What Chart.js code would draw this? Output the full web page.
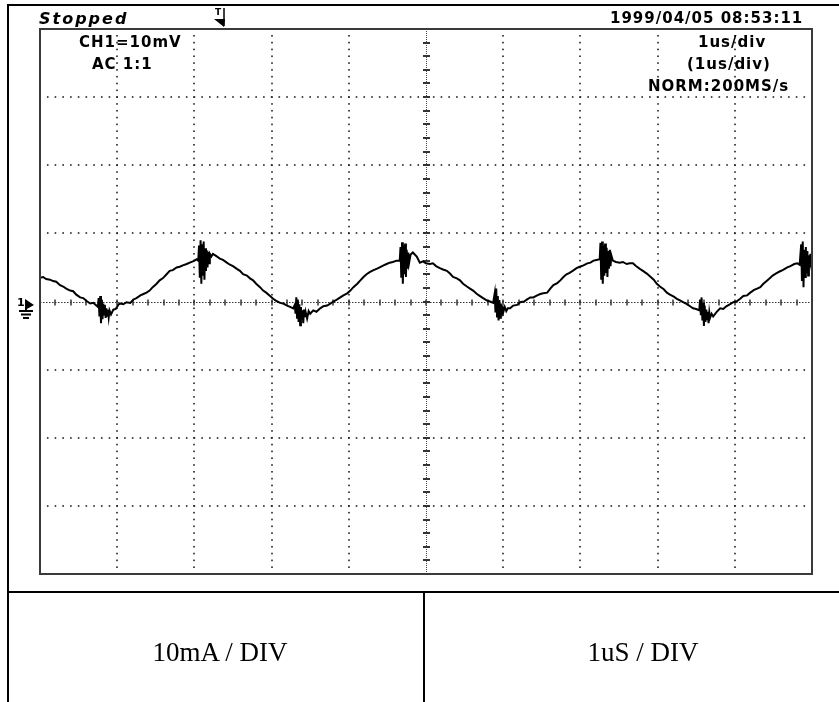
<!DOCTYPE html>
<html>
<head>
<meta charset="utf-8">
<script src="https://cdn.jsdelivr.net/npm/chart.js@4.4.1/dist/chart.umd.min.js"></script>
<style>
html,body{margin:0;padding:0;background:#fff;}
#wrap{position:relative;width:839px;height:702px;overflow:hidden;background:#fff;}
#scope{position:absolute;left:0;top:0;}
.t{position:absolute;white-space:nowrap;font-family:'DejaVu Sans',sans-serif;font-weight:bold;font-size:15px;line-height:15px;letter-spacing:1px;color:#000;}
.s{position:absolute;white-space:nowrap;font-family:'Liberation Serif','Times New Roman',serif;font-size:27px;line-height:27px;color:#000;transform:translateX(-50%);}
</style>
</head>
<body>
<div id="wrap">
<canvas id="scope" width="839" height="702"></canvas>
<div class="t" style="left:39px;top:10.5px;font-style:italic;font-size:16px;line-height:16px;letter-spacing:2px;">Stopped</div>
<div class="t" style="left:215px;top:8px;font-size:9px;line-height:9px;letter-spacing:0;">T</div>
<div class="t" style="left:610px;top:11.3px;">1999/04/05 08:53:11</div>
<div class="t" style="left:79px;top:35px;">CH1=10mV</div>
<div class="t" style="left:92px;top:57.3px;">AC 1:1</div>
<div class="t" style="left:698px;top:35.3px;">1us/div</div>
<div class="t" style="left:687px;top:57.3px;">(1us/div)</div>
<div class="t" style="left:648px;top:79.3px;">NORM:200MS/s</div>
<div class="t" style="left:17px;top:297px;font-size:11px;line-height:11px;letter-spacing:0;">1</div>
<div class="s" style="left:220px;top:639.4px;">10mA / DIV</div>
<div class="s" style="left:643px;top:639.4px;">1uS / DIV</div>
</div>
<script>
// time axis (us), 10 divisions of 1 us
const xDivisions = [0,1,2,3,4,5,6,7,8,9,10];
// vertical axis (mV), 8 divisions of 10 mV
const yDivisions = [-40,-30,-20,-10,0,10,20,30,40];

// CH1 trace samples
const timeUs = [
  0, 0.04, 0.08, 0.13, 0.17, 0.21, 0.26, 0.30, 0.34, 0.39, 0.43, 0.47, 0.52, 0.56, 0.60, 0.65, 0.69, 0.73,
  0.75, 0.76, 0.77, 0.78, 0.79, 0.80, 0.81, 0.82, 0.83, 0.84, 0.85, 0.86, 0.87, 0.88, 0.89, 0.90, 0.92, 0.95,
  0.98, 1.02, 1.04, 1.08, 1.12, 1.17, 1.21, 1.25, 1.30, 1.34, 1.38, 1.42, 1.46, 1.51, 1.55, 1.59, 1.64, 1.68, 1.72, 1.77, 1.81, 1.85, 1.90, 1.94, 1.98, 2.03,
  2.05, 2.06, 2.07, 2.08, 2.09, 2.10, 2.11, 2.12, 2.13, 2.14, 2.15, 2.16, 2.17, 2.18, 2.19, 2.20, 2.22,
  2.24, 2.28, 2.33, 2.37, 2.42, 2.46, 2.50, 2.55, 2.59, 2.63, 2.68, 2.72, 2.76, 2.80, 2.85, 2.89, 2.93, 2.98, 3.02, 3.06, 3.11, 3.15, 3.20, 3.24, 3.28,
  3.30, 3.31, 3.32, 3.33, 3.34, 3.35, 3.36, 3.37, 3.38, 3.39, 3.40, 3.41, 3.42, 3.43, 3.44, 3.46, 3.48, 3.50,
  3.54, 3.58, 3.63, 3.67, 3.72, 3.76, 3.80, 3.85, 3.89, 3.93, 3.98, 4.02, 4.06, 4.11, 4.15, 4.19, 4.23, 4.27, 4.32, 4.36, 4.40, 4.45, 4.49, 4.53, 4.57, 4.62, 4.66,
  4.67, 4.68, 4.69, 4.70, 4.71, 4.72, 4.73, 4.74, 4.75, 4.76, 4.77, 4.78, 4.80,
  4.83, 4.88, 4.92, 4.96, 5.00, 5.05, 5.09, 5.13, 5.18, 5.22, 5.27, 5.31, 5.35, 5.40, 5.44, 5.48, 5.53, 5.57, 5.61, 5.66, 5.70, 5.74, 5.79, 5.83, 5.87,
  5.89, 5.90, 5.91, 5.92, 5.93, 5.94, 5.95, 5.96, 5.97, 5.98, 5.99, 6.00, 6.02, 6.04, 6.06,
  6.09, 6.13, 6.18, 6.22, 6.27, 6.31, 6.35, 6.39, 6.44, 6.48, 6.52, 6.57, 6.61, 6.65, 6.70, 6.74, 6.78, 6.82, 6.86, 6.90, 6.95, 6.99, 7.04, 7.09, 7.13, 7.17, 7.21, 7.25,
  7.26, 7.27, 7.28, 7.29, 7.30, 7.31, 7.32, 7.33, 7.34, 7.35, 7.36, 7.37, 7.38, 7.39, 7.40, 7.42,
  7.46, 7.51, 7.55, 7.60, 7.64, 7.68, 7.72, 7.77, 7.81, 7.86, 7.90, 7.95, 7.99, 8.03, 8.08, 8.12, 8.16, 8.21, 8.25, 8.29, 8.33, 8.38, 8.42, 8.46, 8.50, 8.54,
  8.55, 8.56, 8.57, 8.58, 8.59, 8.60, 8.61, 8.62, 8.63, 8.64, 8.65, 8.66, 8.67, 8.68, 8.70, 8.72,
  8.76, 8.81, 8.85, 8.89, 8.94, 8.98, 9.02, 9.07, 9.11, 9.16, 9.20, 9.25, 9.29, 9.33, 9.37, 9.42, 9.46, 9.49, 9.53, 9.58, 9.62, 9.68, 9.72, 9.77, 9.81, 9.84,
  9.86, 9.87, 9.88, 9.89, 9.90, 9.91, 9.92, 9.93, 9.94, 9.95, 9.96, 9.97, 9.98, 9.99, 10.0
];
const ch1mV = [
  3.5, 3.6, 3.3, 3.2, 3.0, 2.9, 2.4, 2.2, 1.9, 1.6, 1.5, 1.0, 0.6, 0.5, 0.1, -0.3, -0.2, -0.6,
  -0.8, 0.5, -2.2, 0.8, -3.2, 0.2, -2.6, -0.3, -1.9, -0.5, -2.4, -1.0, -2.1, -1.2, -2.3, -1.3, -1.9, -1.2,
  -1.1, -0.4, -0.3, -0.4, -0.1, -0.2, 0.3, 0.5, 0.9, 1.1, 1.3, 1.6, 2.1, 2.6, 3.1, 3.4, 4.0, 4.5, 4.6, 5.0, 5.1, 5.3, 5.5, 5.7, 5.9, 6.2,
  6.0, 8.2, 3.5, 9.0, 2.6, 8.4, 3.8, 8.8, 3.2, 7.8, 4.5, 7.5, 5.0, 7.3, 5.6, 7.0, 6.6,
  7.0, 6.7, 6.3, 6.1, 5.7, 5.4, 5.2, 4.8, 4.5, 4.0, 3.8, 3.4, 3.1, 2.6, 2.1, 1.6, 1.3, 0.8, 0.4, 0.1, -0.2, -0.3, -0.6, -0.8, -1.0,
  -0.5, -1.8, 0.6, -2.4, 0.3, -3.0, -0.4, -3.5, -0.8, -2.6, -1.3, -3.2, -1.2, -2.3, -1.5, -2.5, -1.4, -1.8,
  -1.3, -1.5, -1.0, -0.7, -0.6, -0.3, 0.0, 0.3, 0.6, 0.9, 1.2, 1.6, 2.1, 2.6, 3.1, 3.6, 4.0, 4.3, 4.6, 4.8, 5.0, 5.3, 5.5, 5.7, 5.8, 6.0, 6.0,
  8.0, 3.5, 8.7, 2.6, 8.2, 4.0, 8.5, 3.6, 7.6, 4.8, 7.2, 5.6, 6.9,
  7.2, 6.6, 5.7, 5.9, 5.6, 5.5, 5.6, 5.2, 4.9, 4.7, 4.5, 4.1, 3.6, 3.4, 3.1, 2.6, 2.2, 1.9, 1.6, 1.1, 0.8, 0.5, 0.15, 0.0, -0.2,
  1.2, -1.6, 1.9, -2.2, 0.8, -2.8, 0.2, -2.4, -0.3, -2.0, -0.6, -1.6, -0.8, -1.4, -1.0,
  -1.0, -0.6, -0.5, -0.1, 0.0, 0.3, 0.6, 0.6, 0.9, 1.1, 1.2, 1.3, 1.9, 2.4, 2.7, 3.1, 3.6, 4.0, 4.2, 4.5, 4.9, 5.1, 5.3, 5.6, 5.7, 6.0, 6.1, 6.2,
  8.6, 3.2, 8.8, 2.6, 8.2, 3.8, 8.5, 4.2, 7.9, 3.6, 7.4, 4.8, 7.6, 5.2, 6.8, 6.0,
  5.8, 5.7, 5.8, 5.5, 5.6, 5.6, 5.2, 4.8, 4.5, 4.1, 3.7, 3.2, 2.6, 2.2, 1.8, 1.3, 1.0, 0.7, 0.4, 0.15, -0.1, -0.4, -0.7, -1.0, -1.1, -1.3,
  0.3, -2.0, 0.6, -2.8, -0.2, -3.6, -0.6, -3.0, -1.2, -2.6, -1.5, -3.2, -1.6, -2.4, -1.8, -2.2,
  -1.6, -1.0, -1.1, -0.7, -0.4, -0.1, 0.0, 0.4, 0.8, 0.9, 1.3, 1.7, 1.9, 2.1, 2.6, 3.1, 3.5, 3.8, 4.1, 4.4, 4.6, 5.0, 5.2, 5.5, 5.6, 5.4,
  8.4, 3.0, 8.8, 2.1, 7.6, 3.6, 8.0, 4.2, 7.4, 3.8, 6.8, 5.0, 7.0, 5.6, 6.2
];

const n = Math.min(timeUs.length, ch1mV.length);
const points = [];
for (let i = 0; i < n; i++) points.push({x: timeUs[i], y: ch1mV[i]});

const scopePlugin = {
  id: 'scope',
  beforeDraw(chart) {
    const ctx = chart.ctx;
    ctx.save();
    ctx.fillStyle = '#fff';
    ctx.fillRect(0, 0, chart.width, chart.height);
    ctx.strokeStyle = '#000';
    ctx.lineWidth = 2;
    ctx.beginPath();
    // outer frame
    ctx.moveTo(8, 702); ctx.lineTo(8, 5); ctx.lineTo(839, 5);
    ctx.moveTo(8, 592); ctx.lineTo(839, 592);
    ctx.moveTo(424, 592); ctx.lineTo(424, 702);
    ctx.stroke();
    // trigger marker
    ctx.lineWidth = 1.5;
    ctx.beginPath(); ctx.moveTo(224, 8); ctx.lineTo(224, 26); ctx.stroke();
    ctx.fillStyle = '#000';
    ctx.beginPath(); ctx.moveTo(214, 19); ctx.lineTo(225, 19); ctx.lineTo(224, 27); ctx.closePath(); ctx.fill();
    ctx.restore();
  },
  beforeDatasetsDraw(chart) {
    const ctx = chart.ctx, a = chart.chartArea;
    const xs = chart.scales.x, ys = chart.scales.y;
    ctx.save();
    ctx.fillStyle = '#222';
    const xmin = xDivisions[0], xmax = xDivisions[xDivisions.length - 1];
    const ymin = yDivisions[0], ymax = yDivisions[yDivisions.length - 1];
    // dotted vertical grid lines
    xDivisions.forEach(d => {
      if (d === xmin || d === xmax || d === 5) return;
      const px = Math.round(xs.getPixelForValue(d));
      for (let k = 0; k <= 80; k++) {
        const py = ys.getPixelForValue(ymin + k);
        ctx.fillRect(px - 0.8, py - 0.8, 1.6, 1.6);
      }
    });
    // dotted horizontal grid lines
    yDivisions.forEach(d => {
      if (d === ymin || d === ymax || d === 0) return;
      const py = Math.round(ys.getPixelForValue(d));
      for (let k = 0; k <= 100; k++) {
        const px = xs.getPixelForValue(xmin + k * 0.1);
        ctx.fillRect(px - 0.8, py - 0.8, 1.6, 1.6);
      }
    });
    // center horizontal axis with minor ticks
    const cy = Math.round(ys.getPixelForValue(0)) + 0.5;
    ctx.strokeStyle = '#333';
    ctx.lineWidth = 1;
    ctx.setLineDash([1.5, 1.5]);
    ctx.beginPath(); ctx.moveTo(a.left, cy); ctx.lineTo(a.right, cy); ctx.stroke();
    ctx.setLineDash([]);
    ctx.lineWidth = 1.5;
    ctx.beginPath();
    for (let k = 1; k < 50; k++) {
      const px = Math.round(xs.getPixelForValue(xmin + k * 0.2));
      ctx.moveTo(px, cy - 3); ctx.lineTo(px, cy + 3);
    }
    ctx.stroke();
    // center vertical axis with minor ticks
    const cx = Math.round(xs.getPixelForValue(5)) + 0.5;
    ctx.lineWidth = 1;
    ctx.setLineDash([1, 1]);
    ctx.strokeStyle = '#444';
    ctx.beginPath(); ctx.moveTo(cx, a.top); ctx.lineTo(cx, a.bottom); ctx.stroke();
    ctx.setLineDash([]);
    ctx.strokeStyle = '#333';
    ctx.lineWidth = 2;
    ctx.beginPath();
    for (let k = 1; k < 40; k++) {
      const py = Math.round(ys.getPixelForValue(ymin + k * 2));
      ctx.moveTo(cx - 3.5, py); ctx.lineTo(cx + 3.5, py);
    }
    ctx.stroke();
    ctx.restore();
  },
  afterDraw(chart) {
    const ctx = chart.ctx, a = chart.chartArea;
    ctx.save();
    // screen border
    ctx.strokeStyle = '#3a3a3a';
    ctx.lineWidth = 2;
    ctx.strokeRect(a.left, a.top, a.right - a.left, a.bottom - a.top);
    // ground / channel marker
    ctx.strokeStyle = '#000';
    ctx.fillStyle = '#000';
    ctx.lineWidth = 1.8;
    ctx.beginPath();
    ctx.moveTo(26, 300); ctx.lineTo(26, 311);
    ctx.moveTo(19, 311); ctx.lineTo(33, 311);
    ctx.moveTo(21, 314.5); ctx.lineTo(31, 314.5);
    ctx.moveTo(23, 318); ctx.lineTo(29, 318);
    ctx.stroke();
    ctx.beginPath(); ctx.moveTo(25, 299); ctx.lineTo(34, 305); ctx.lineTo(25, 310); ctx.closePath(); ctx.fill();
    ctx.restore();
  }
};

new Chart(document.getElementById('scope'), {
  type: 'line',
  data: {
    datasets: [{
      label: 'CH1',
      data: points,
      borderColor: '#000',
      borderWidth: 2,
      pointRadius: 0,
      tension: 0,
      fill: false
    }]
  },
  options: {
    responsive: false,
    animation: false,
    devicePixelRatio: 1,
    layout: { padding: { left: 40, top: 29, right: 27, bottom: 128 } },
    plugins: { legend: { display: false }, tooltip: { enabled: false }, title: { display: false } },
    scales: {
      x: { type: 'linear', min: xDivisions[0], max: xDivisions[xDivisions.length - 1], display: false },
      y: { type: 'linear', min: yDivisions[0], max: yDivisions[yDivisions.length - 1], display: false }
    }
  },
  plugins: [scopePlugin]
});
</script>
</body>
</html>
